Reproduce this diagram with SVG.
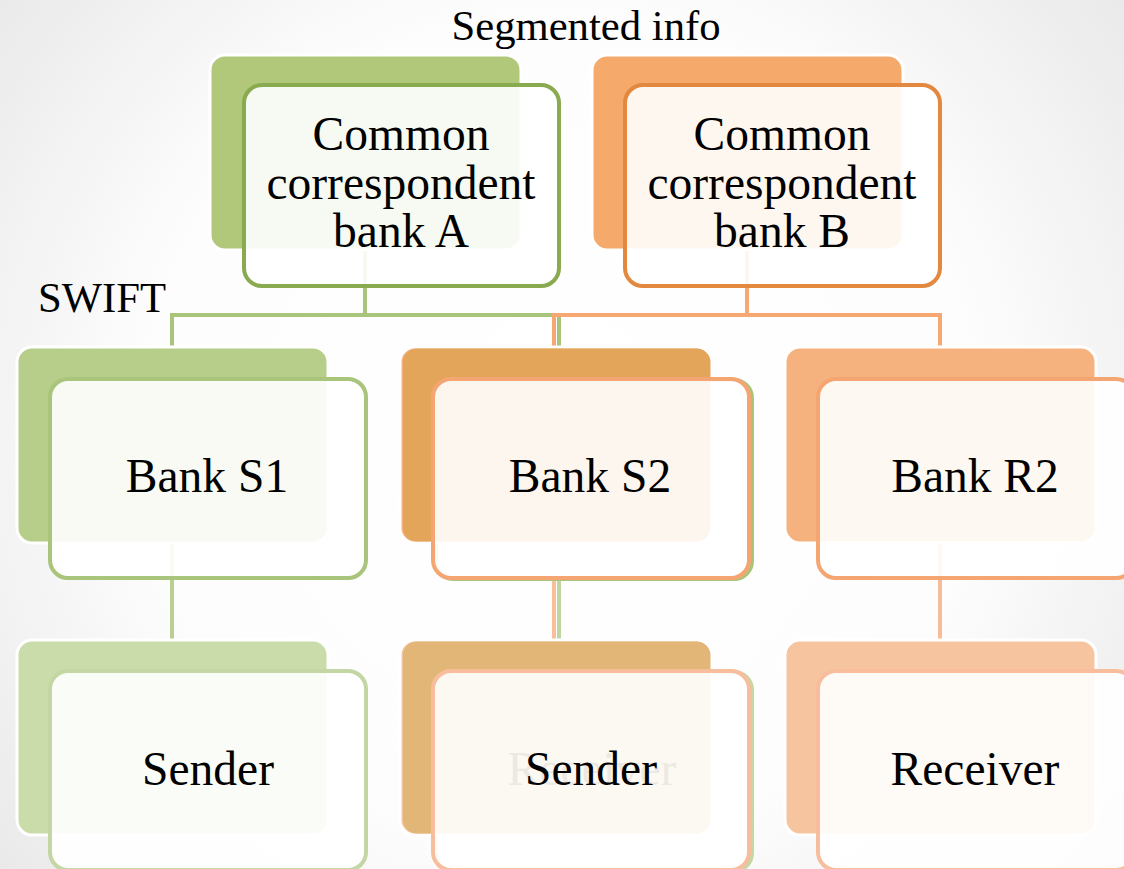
<svg xmlns="http://www.w3.org/2000/svg" width="1124" height="869" viewBox="0 0 1124 869">
  <defs>
    <radialGradient id="bg" cx="560" cy="430" r="760" gradientUnits="userSpaceOnUse">
      <stop offset="0" stop-color="#ffffff"/>
      <stop offset="0.55" stop-color="#fdfdfd"/>
      <stop offset="1" stop-color="#e6e6e6"/>
    </radialGradient>
    <style>
      .back { stroke: #ffffff; stroke-width: 3; }
      .front { fill: #ffffff; fill-opacity: 0.9; stroke-width: 4; }
      .label { fill: #000000; text-anchor: middle; font-family: "Times New Roman", "Liberation Serif", Tinos, "DejaVu Serif", serif; }
      .node-text { font-size: 47.5px; }
      .side-text { font-size: 42.7px; }
      .ghost { opacity: 0.06; }
      .conn { fill: none; stroke-width: 4; stroke-linejoin: miter; stroke-linecap: butt; }
    </style>
  </defs>

  <!-- page background -->
  <rect x="0" y="0" width="1124" height="869" fill="url(#bg)"/>

  <!-- connectors -->
  <g id="connectors">
    <path class="conn" stroke="#a9c57c" d="M365,250 V315 M172,347 V315 H559 V347"/>
    <path class="conn" stroke="#f6a772" d="M747,250 V315 M554,347 V315 H940 V347"/>
    <path class="conn" stroke="#b9d092" d="M172,543 V640"/>
    <path class="conn" stroke="#c0d6a0" d="M559,543 V640"/>
    <path class="conn" stroke="#f8bf9a" d="M554,543 V640"/>
    <path class="conn" stroke="#f8bd98" d="M940,543 V640"/>
  </g>

  <!-- level 1 -->
  <g id="node-bank-a">
    <rect class="back" x="210" y="55" width="311" height="195" rx="15" fill="#b1c87b"/>
    <rect class="front" x="244" y="85" width="315" height="201" rx="18" stroke="#8aaa50"/>
    <text class="label node-text" x="401" y="150">Common</text>
    <text class="label node-text" x="401" y="198.5">correspondent</text>
    <text class="label node-text" x="401" y="247">bank A</text>
  </g>
  <g id="node-bank-b">
    <rect class="back" x="592" y="55" width="311" height="195" rx="15" fill="#f5aa6b"/>
    <rect class="front" x="625" y="85" width="315" height="201" rx="18" stroke="#e3883f"/>
    <text class="label node-text" x="782" y="150">Common</text>
    <text class="label node-text" x="782" y="198.5">correspondent</text>
    <text class="label node-text" x="782" y="247">bank B</text>
  </g>

  <!-- level 2 -->
  <g id="node-bank-s1">
    <rect class="back" x="17" y="347" width="311" height="196" rx="15" fill="#b6ce89"/>
    <rect class="front" x="50" y="379" width="316" height="199" rx="18" stroke="#a9c57b"/>
    <text class="label node-text" x="207" y="492">Bank S1</text>
  </g>
  <g id="node-bank-s2-green">
    <rect class="front" x="436" y="380" width="316" height="199" rx="18" stroke="#a9c57b"/>
  </g>
  <g id="node-bank-s2">
    <rect class="back" x="400" y="347" width="311" height="196" rx="15" fill="#f5b07e"/>
    <rect x="403" y="348.5" width="307.5" height="193" rx="14" fill="#e3a55a"/>
    <rect class="front" x="433" y="379" width="316" height="199" rx="18" stroke="#f5a571"/>
    <text class="label node-text" x="590" y="492">Bank S2</text>
  </g>
  <g id="node-bank-r2">
    <rect class="back" x="785" y="347" width="311" height="196" rx="15" fill="#f6b27e"/>
    <rect class="front" x="818" y="379" width="316" height="199" rx="18" stroke="#f5a571"/>
    <text class="label node-text" x="975" y="492">Bank R2</text>
  </g>

  <!-- level 3 -->
  <g id="node-sender-1">
    <rect class="back" x="17" y="640" width="311" height="195" rx="15" fill="#cbdcab"/>
    <rect class="front" x="50" y="671" width="316" height="199" rx="18" stroke="#c3d6a3"/>
    <text class="label node-text" x="208" y="785">Sender</text>
  </g>
  <g id="node-receiver-green">
    <rect class="front" x="436" y="672" width="316" height="199" rx="18" stroke="#c4d7a5"/>
  </g>
  <g id="node-sender-2">
    <rect class="back" x="400" y="640" width="311" height="195" rx="15" fill="#f7c4a0"/>
    <rect x="403" y="641.5" width="307.5" height="192" rx="14" fill="#e1b677"/>
    <rect class="front" x="433" y="671" width="316" height="199" rx="18" stroke="#f7bd9c"/>
    <text class="label node-text ghost" x="592" y="785">Receiver</text>
    <text class="label node-text" x="591" y="785">Sender</text>
  </g>
  <g id="node-receiver">
    <rect class="back" x="785" y="640" width="311" height="195" rx="15" fill="#f6c59f"/>
    <rect class="front" x="818" y="671" width="316" height="199" rx="18" stroke="#f7bd9c"/>
    <text class="label node-text" x="975" y="785">Receiver</text>
  </g>

  <!-- side labels -->
  <text id="label-segmented" class="label side-text" x="586" y="40">Segmented info</text>
  <text id="label-swift" class="label side-text" x="102" y="312">SWIFT</text>
</svg>
